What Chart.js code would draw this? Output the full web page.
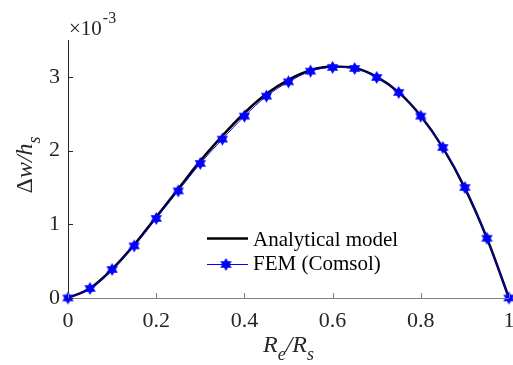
<!DOCTYPE html>
<html>
<head>
<meta charset="utf-8">
<script src="https://cdn.jsdelivr.net/npm/chart.js@4.4.1/dist/chart.umd.min.js"></script>
<style>
  html, body { margin: 0; padding: 0; background: #fff; overflow: hidden; }
  #wrap { width: 516px; height: 365px; position: relative; }
</style>
</head>
<body>
<div id="wrap"><canvas id="chart"></canvas></div>
<script>
// Re/Rs positions
const ratio = [0, 0.05, 0.1, 0.15, 0.2, 0.25, 0.3, 0.35, 0.4, 0.45, 0.5,
               0.55, 0.6, 0.65, 0.7, 0.75, 0.8, 0.85, 0.9, 0.95, 1];
// dw/hs in units of 1e-3
const analytical = [0, 0.13, 0.39, 0.72, 1.10, 1.48, 1.86, 2.20, 2.51, 2.77, 2.96,
                    3.09, 3.14, 3.12, 3.00, 2.79, 2.47, 2.04, 1.49, 0.81, 0];
const fem = [0, 0.129, 0.387, 0.707, 1.079, 1.453, 1.825, 2.155, 2.467, 2.738, 2.932,
             3.077, 3.128, 3.114, 2.992, 2.788, 2.467, 2.042, 1.499, 0.81, 0];
const xTicks = [0, 0.2, 0.4, 0.6, 0.8, 1];
const yTicks = [0, 1, 2, 3];
const seriesNames = ['Analytical model', 'FEM (Comsol)'];

const SERIF = "'Liberation Serif', 'Times New Roman', serif";

// filled six-point star marker
function makeStar(r) {
  const c = document.createElement('canvas');
  const s = Math.ceil(r * 2 + 2);
  c.width = s; c.height = s;
  const g = c.getContext('2d');
  g.translate(s / 2, s / 2);
  g.beginPath();
  for (let i = 0; i < 12; i++) {
    const a = -Math.PI / 2 + i * Math.PI / 6;
    const rr = i % 2 === 0 ? r : r * 0.58;
    g.lineTo(rr * Math.cos(a), rr * Math.sin(a));
  }
  g.closePath();
  g.fillStyle = '#0000ff';
  g.fill();
  return c;
}
const star = makeStar(6.5);

const toPts = ys => ratio.map((x, i) => ({ x: x, y: ys[i] }));

// axes, inward ticks, labels and legend in MATLAB style
const decor = {
  id: 'decor',
  afterDatasetsDraw(chart) {
    const ctx = chart.ctx;
    const xs = chart.scales.x, ys = chart.scales.y;
    const a = chart.chartArea;
    ctx.save();
    // axes lines
    ctx.lineWidth = 1;
    ctx.strokeStyle = '#262626';
    ctx.beginPath();
    ctx.moveTo(a.left + 0.5, a.top);
    ctx.lineTo(a.left + 0.5, a.bottom);
    ctx.stroke();
    ctx.strokeStyle = '#808080';
    ctx.beginPath();
    ctx.moveTo(a.left, a.bottom + 0.5);
    ctx.lineTo(a.right, a.bottom + 0.5);
    ctx.stroke();
    // inward ticks
    xTicks.forEach(v => {
      const px = Math.round(xs.getPixelForValue(v)) + 0.5;
      ctx.beginPath();
      ctx.moveTo(px, a.bottom);
      ctx.lineTo(px, a.bottom - 5);
      ctx.stroke();
    });
    ctx.strokeStyle = '#262626';
    yTicks.forEach(v => {
      const py = Math.round(ys.getPixelForValue(v)) + 0.5;
      ctx.beginPath();
      ctx.moveTo(a.left, py);
      ctx.lineTo(a.left + 5, py);
      ctx.stroke();
    });
    // exponent
    ctx.fillStyle = '#262626';
    ctx.textBaseline = 'alphabetic';
    ctx.textAlign = 'left';
    ctx.font = '21px ' + SERIF;
    ctx.fillText('\u00d710', a.left + 1, a.top - 5);
    const w = ctx.measureText('\u00d710').width;
    ctx.font = '16px ' + SERIF;
    ctx.fillText('-3', a.left + 2 + w, a.top - 17);
    // x title: Re/Rs
    const cx = (a.left + a.right) / 2;
    const parts = [['R', 24, 0], ['e', 18, 8], ['/R', 24, 0], ['s', 18, 8]];
    let tw = 0;
    parts.forEach(p => { ctx.font = 'italic ' + p[1] + 'px ' + SERIF; tw += ctx.measureText(p[0]).width; });
    let x0 = cx - tw / 2;
    parts.forEach(p => {
      ctx.font = 'italic ' + p[1] + 'px ' + SERIF;
      ctx.fillText(p[0], x0, 352 + p[2]);
      x0 += ctx.measureText(p[0]).width;
    });
    // y title: dw/hs
    ctx.save();
    ctx.translate(32, 165);
    ctx.rotate(-Math.PI / 2);
    const yparts = [['\u0394', 24, 0, ''], ['w/h', 24, 0, 'italic '], ['s', 18, 8, 'italic ']];
    tw = 0;
    yparts.forEach(p => { ctx.font = p[3] + p[1] + 'px ' + SERIF; tw += ctx.measureText(p[0]).width; });
    x0 = -tw / 2;
    yparts.forEach(p => {
      ctx.font = p[3] + p[1] + 'px ' + SERIF;
      ctx.fillText(p[0], x0, p[2]);
      x0 += ctx.measureText(p[0]).width;
    });
    ctx.restore();
    // legend
    ctx.font = '21px ' + SERIF;
    ctx.strokeStyle = '#000';
    ctx.lineWidth = 2.5;
    ctx.beginPath();
    ctx.moveTo(207, 238.5); ctx.lineTo(248, 238.5);
    ctx.stroke();
    ctx.fillStyle = '#000';
    ctx.fillText(seriesNames[0], 253, 246);
    ctx.strokeStyle = '#0000ff';
    ctx.lineWidth = 1;
    ctx.beginPath();
    ctx.moveTo(207, 264.5); ctx.lineTo(248, 264.5);
    ctx.stroke();
    ctx.drawImage(star, 226 - star.width / 2, 264.5 - star.height / 2);
    ctx.fillText(seriesNames[1], 253, 270);
    ctx.restore();
  }
};

new Chart(document.getElementById('chart'), {
  type: 'line',
  data: {
    datasets: [
      {
        label: seriesNames[1],
        data: toPts(fem),
        borderColor: '#0000ff',
        borderWidth: 1,
        pointStyle: star,
        pointRadius: 6,
        cubicInterpolationMode: 'monotone',
        order: 0
      },
      {
        label: seriesNames[0],
        data: toPts(analytical),
        borderColor: '#000000',
        borderWidth: 2.5,
        pointRadius: 0,
        cubicInterpolationMode: 'monotone',
        order: 1
      }
    ]
  },
  plugins: [decor],
  options: {
    responsive: true,
    maintainAspectRatio: false,
    animation: false,
    clip: false,
    layout: { padding: { top: 40, right: 2, left: 0, bottom: 0 } },
    plugins: { legend: { display: false }, tooltip: { enabled: false } },
    scales: {
      x: {
        type: 'linear', min: 0, max: 1,
        afterBuildTicks: s => { s.ticks = xTicks.map(v => ({ value: v })); },
        afterFit: s => { s.height = 67; s.paddingLeft = 0; s.paddingRight = 0; },
        border: { display: false },
        grid: { display: false, drawTicks: false },
        ticks: {
          padding: 10, color: '#262626', maxRotation: 0,
          font: { family: SERIF, size: 22 },
          callback: v => String(v)
        }
      },
      y: {
        type: 'linear', min: 0, max: 3.5,
        afterBuildTicks: s => { s.ticks = yTicks.map(v => ({ value: v })); },
        afterFit: s => { s.width = 68; s.paddingTop = 0; s.paddingBottom = 0; },
        border: { display: false },
        grid: { display: false, drawTicks: false },
        ticks: {
          padding: 8, color: '#262626',
          font: { family: SERIF, size: 22 },
          callback: v => String(v)
        }
      }
    }
  }
});
</script>
</body>
</html>
